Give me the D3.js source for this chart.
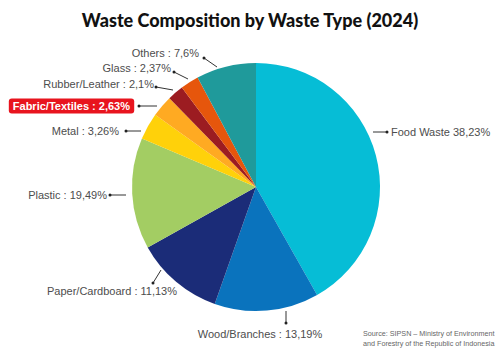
<!DOCTYPE html>
<html><head><meta charset="utf-8">
<script src="https://cdn.jsdelivr.net/npm/d3@7"></script>
<style>body{margin:0;background:#fff}svg{display:block}</style>
</head><body>
<svg id="c" width="500" height="353"></svg>
<script>
// Data
const categories = ["Food Waste","Wood/Branches","Paper/Cardboard","Plastic","Metal","Fabric/Textiles","Rubber/Leather","Glass","Others"];
const sliceValues = [41.8,13.6,11.5,14.5,3.5,2.8,2.1,2.4,7.8]; // slice sizes as drawn
const labelValues = ["38,23%","13,19%","11,13%","19,49%","3,26%","2,63%","2,1%","2,37%","7,6%"]; // printed percentages
const colors = ["#06bdd6","#0a73bd","#1b2c78","#a3cd63","#ffd10a","#ffaa22","#9c1c21","#e6560c","#1f9a9b"];

// Annotation layout (separate from data)
const layout = [
  {x1:373,y1:132,x2:387,y2:132,tx:391,ty:132,anchor:"start",sep:" "},
  {x1:286,y1:311,x2:286,y2:323,tx:260,ty:334,anchor:"middle",sep:" : "},
  {x1:161,y1:270,x2:153,y2:283,tx:112,ty:291,anchor:"middle",sep:" : "},
  {x1:126,y1:195,x2:110,y2:195,tx:107,ty:195,anchor:"end",sep:" : "},
  {x1:141,y1:131,x2:126,y2:131,tx:119,ty:131,anchor:"end",sep:" : "},
  {x1:157,y1:106,x2:139,y2:106,tx:130,ty:106,anchor:"end",sep:" : ",highlight:true},
  {x1:173,y1:90,x2:156,y2:87,tx:154,ty:84,anchor:"end",sep:" : "},
  {x1:188,y1:79,x2:174,y2:72,tx:171,ty:68,anchor:"end",sep:" : "},
  {x1:217,y1:67,x2:204,y2:58,tx:199,ty:53,anchor:"end",sep:" : "}
];

const svg = d3.select("#c");
const cx = 256, cy = 187, r = 124;

svg.append("text").attr("x",250).attr("y",27).attr("text-anchor","middle")
  .attr("font-family","Lato").attr("font-weight",900).attr("font-size",18)
  .attr("fill","#111").text("Waste Composition by Waste Type (2024)");

const pie = d3.pie().sort(null).value(d=>d);
const arc = d3.arc().innerRadius(0).outerRadius(r);
const g = svg.append("g").attr("transform",`translate(${cx},${cy})`);
g.selectAll("path").data(pie(sliceValues)).join("path")
  .attr("d",arc).attr("fill",(d,i)=>colors[i]);

const ann = svg.append("g");
categories.forEach((c,i)=>{
  const L = layout[i];
  ann.append("line").attr("x1",L.x1).attr("y1",L.y1).attr("x2",L.x2).attr("y2",L.y2)
    .attr("stroke","#333").attr("stroke-width",1);
  ann.append("circle").attr("cx",L.x2).attr("cy",L.y2).attr("r",1.5).attr("fill","#222");
  const label = c + L.sep + labelValues[i];
  if(L.highlight){
    const t = ann.append("text").attr("x",L.tx).attr("y",L.ty).attr("dy","0.35em")
      .attr("text-anchor",L.anchor).attr("font-family","Liberation Sans, Arial")
      .attr("font-weight","bold").attr("font-size",11).attr("fill","#fff").text(label);
    const bb = t.node().getBBox();
    ann.insert("rect",()=>t.node()).attr("x",bb.x-4).attr("y",L.ty-7.5).attr("width",bb.width+8).attr("height",15)
      .attr("rx",3).attr("fill","#e8141e");
  } else {
    ann.append("text").attr("x",L.tx).attr("y",L.ty).attr("dy","0.35em")
      .attr("text-anchor",L.anchor).attr("font-family","Liberation Sans, Arial")
      .attr("font-size",11).attr("fill","#4d4d4d").text(label);
  }
});

svg.append("text").attr("x",363).attr("y",336).attr("font-family","Liberation Sans, Arial")
  .attr("font-size",7.2).attr("fill","#666").text("Source: SIPSN – Ministry of Environment");
svg.append("text").attr("x",363).attr("y",346).attr("font-family","Liberation Sans, Arial")
  .attr("font-size",7.2).attr("fill","#666").text("and Forestry of the Republic of Indonesia");
</script>
</body></html>
